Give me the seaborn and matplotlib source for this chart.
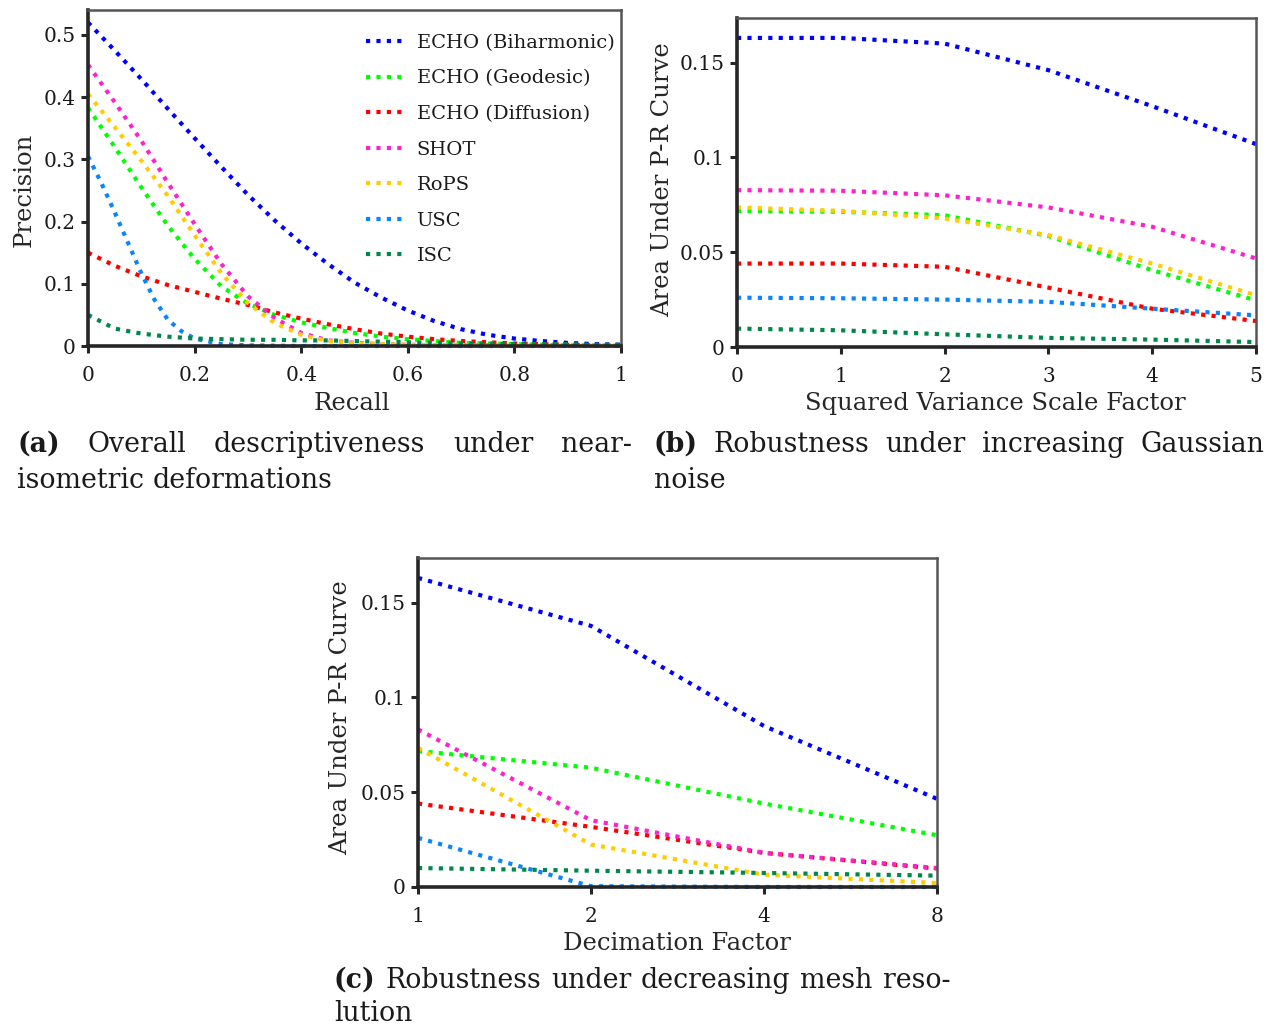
import numpy as np
import pandas as pd
import matplotlib
matplotlib.use("Agg")
import matplotlib.pyplot as plt
import seaborn as sns

# ---------------- data ----------------
methods = ["ECHO (Biharmonic)", "ECHO (Geodesic)", "ECHO (Diffusion)",
           "SHOT", "RoPS", "USC", "ISC"]
colors = ["#0000ff", "#00ff00", "#ff0000", "#ff22cc", "#ffcc00", "#0a84ff", "#00884a"]

# (a) precision-recall
recall = [0.0, 0.05, 0.1, 0.15, 0.2, 0.25, 0.3, 0.35, 0.4, 0.45, 0.5,
          0.55, 0.6, 0.65, 0.7, 0.75, 0.8, 0.85, 0.9, 0.95, 1.0]
prec_biharmonic = [0.52, 0.475, 0.429, 0.381, 0.334, 0.288, 0.243, 0.202, 0.165, 0.132, 0.102,
                   0.078, 0.057, 0.040, 0.027, 0.018, 0.012, 0.008, 0.005, 0.003, 0.002]
prec_geodesic = [0.383, 0.320, 0.255, 0.193, 0.140, 0.096, 0.068, 0.050, 0.038, 0.029, 0.021,
                 0.015, 0.011, 0.008, 0.005, 0.004, 0.003, 0.002, 0.001, 0.001, 0.0]
prec_diffusion = [0.150, 0.129, 0.112, 0.098, 0.087, 0.076, 0.066, 0.054, 0.044, 0.035, 0.027,
                  0.020, 0.015, 0.011, 0.008, 0.006, 0.004, 0.003, 0.002, 0.001, 0.0]
prec_shot = [0.452, 0.392, 0.330, 0.262, 0.196, 0.132, 0.080, 0.045, 0.021, 0.009, 0.005,
             0.003, 0.002, 0.001, 0.001, 0.001, 0.0, 0.0, 0.0, 0.0, 0.0]
prec_rops = [0.405, 0.352, 0.298, 0.241, 0.178, 0.117, 0.069, 0.037, 0.018, 0.008, 0.004,
             0.003, 0.002, 0.001, 0.001, 0.0, 0.0, 0.0, 0.0, 0.0, 0.0]
recall_usc = [0.0, 0.025, 0.05, 0.075, 0.1, 0.125, 0.15, 0.175, 0.2, 0.25, 0.3, 0.4,
              0.5, 0.6, 0.7, 0.8, 0.9, 1.0]
prec_usc = [0.305, 0.262, 0.215, 0.166, 0.117, 0.074, 0.042, 0.024, 0.012, 0.003, 0.001, 0.0,
            0.0, 0.0, 0.0, 0.0, 0.0, 0.0]
prec_isc = [0.050, 0.028, 0.020, 0.015, 0.012, 0.011, 0.010, 0.010, 0.009, 0.009, 0.008,
            0.007, 0.006, 0.005, 0.004, 0.004, 0.003, 0.003, 0.003, 0.002, 0.002]

# (b) Gaussian noise
noise = [0, 1, 2, 3, 4, 5]
noise_auc = {
    "ECHO (Biharmonic)": [0.163, 0.163, 0.160, 0.146, 0.127, 0.107],
    "ECHO (Geodesic)":   [0.0717, 0.0713, 0.0695, 0.0585, 0.0405, 0.0246],
    "ECHO (Diffusion)":  [0.044, 0.044, 0.0423, 0.0313, 0.0202, 0.0137],
    "SHOT":              [0.0827, 0.0824, 0.080, 0.0736, 0.0634, 0.0467],
    "RoPS":              [0.0736, 0.0718, 0.0678, 0.059, 0.044, 0.0273],
    "USC":               [0.026, 0.0257, 0.025, 0.0238, 0.0202, 0.0167],
    "ISC":               [0.0097, 0.0088, 0.0067, 0.0048, 0.0039, 0.0026],
}

# (c) decimation
decimation = [1, 2, 4, 8]
decim_auc = {
    "ECHO (Biharmonic)": [0.163, 0.1377, 0.0849, 0.0465],
    "ECHO (Geodesic)":   [0.0717, 0.0629, 0.044, 0.0273],
    "ECHO (Diffusion)":  [0.044, 0.0317, 0.018, 0.0097],
    "SHOT":              [0.0831, 0.0352, 0.018, 0.010],
    "RoPS":              [0.0734, 0.0224, 0.0065, 0.0021],
    "USC":               [0.0259, 0.0004, 0.0, 0.0],
    "ISC":               [0.010, 0.0086, 0.0074, 0.006],
}

# ---------------- style ----------------
sns.set_theme(style="white")
plt.rcParams["font.family"] = ["DejaVu Serif"]
plt.rcParams["text.color"] = "#1a1a1a"

W, H = 1271, 1029
fig = plt.figure(figsize=(W / 100, H / 100), dpi=100)

def ax_rect(l, t, r, b):
    return [l / W, 1 - b / H, (r - l) / W, (b - t) / H]

ax_a = fig.add_axes(ax_rect(88, 10, 621, 346))
ax_b = fig.add_axes(ax_rect(737, 18, 1256, 347))
ax_c = fig.add_axes(ax_rect(418, 558, 937, 887))

LS = (0, (1, 1.5))
LW = 3.0
TICK_FS = 14.5
LABEL_FS = 17.5

def style_axes(ax):
    for side in ["left", "bottom"]:
        ax.spines[side].set_linewidth(2.6)
        ax.spines[side].set_color("#262626")
    for side in ["top", "right"]:
        ax.spines[side].set_linewidth(1.8)
        ax.spines[side].set_color("#555555")
        ax.spines[side].set_visible(True)
    ax.tick_params(axis="both", which="major", direction="out", length=5,
                   width=2.2, color="#262626", labelsize=TICK_FS, labelcolor="#1a1a1a",
                   bottom=True, left=True, top=False, right=False)
    ax.tick_params(axis="x", pad=9.5)
    ax.tick_params(axis="y", pad=4)
    ax.tick_params(which="minor", bottom=False, left=False)
    ax.grid(False)

# (a)
series_a = [prec_biharmonic, prec_geodesic, prec_diffusion, prec_shot, prec_rops, None, prec_isc]
for name, col, ys in zip(methods, colors, series_a):
    if name == "USC":
        xs, ys = recall_usc, prec_usc
    else:
        xs = recall
    sns.lineplot(x=xs, y=ys, ax=ax_a, color=col, linewidth=LW, linestyle=LS,
                 label=name, legend=False, clip_on=False)
ax_a.set_xlim(0, 1)
ax_a.set_ylim(0, 0.54)
ax_a.set_xticks([0, 0.2, 0.4, 0.6, 0.8, 1.0])
ax_a.set_xticklabels(["0", "0.2", "0.4", "0.6", "0.8", "1"])
ax_a.set_yticks([0, 0.1, 0.2, 0.3, 0.4, 0.5])
ax_a.set_yticklabels(["0", "0.1", "0.2", "0.3", "0.4", "0.5"])
ax_a.set_xlabel("Recall", fontsize=LABEL_FS)
ax_a.set_ylabel("Precision", fontsize=LABEL_FS)
style_axes(ax_a)
ax_a.xaxis.set_label_coords(0.495, -0.138)
ax_a.yaxis.set_label_coords(-0.098, 0.464)
leg = ax_a.legend(loc="upper left", bbox_to_anchor=((366 - 88) / 533, (346 - 34) / 336),
                  frameon=False, fontsize=14, handlelength=2.05, handletextpad=0.55,
                  labelspacing=0.9, borderpad=0, borderaxespad=0)

# (b)
df_b = pd.DataFrame([(m, x, v) for m in methods for x, v in zip(noise, noise_auc[m])],
                    columns=["method", "x", "auc"])
for name, col in zip(methods, colors):
    sub = df_b[df_b.method == name]
    sns.lineplot(data=sub, x="x", y="auc", ax=ax_b, color=col, linewidth=LW,
                 linestyle=LS, legend=False, clip_on=False)
ax_b.set_xlim(0, 5)
ax_b.set_ylim(0, 0.1735)
ax_b.set_xticks(noise)
ax_b.set_xticklabels([str(v) for v in noise])
ax_b.set_yticks([0, 0.05, 0.1, 0.15])
ax_b.set_yticklabels(["0", "0.05", "0.1", "0.15"])
ax_b.set_xlabel("Squared Variance Scale Factor", fontsize=LABEL_FS)
ax_b.set_ylabel("Area Under P-R Curve", fontsize=LABEL_FS)
style_axes(ax_b)
ax_b.xaxis.set_label_coords(0.497, -0.138)
ax_b.yaxis.set_label_coords(-0.122, 0.51)

# (c)
df_c = pd.DataFrame([(m, x, v) for m in methods for x, v in zip(decimation, decim_auc[m])],
                    columns=["method", "x", "auc"])
for name, col in zip(methods, colors):
    sub = df_c[df_c.method == name]
    sns.lineplot(data=sub, x="x", y="auc", ax=ax_c, color=col, linewidth=LW,
                 linestyle=LS, legend=False, clip_on=False)
ax_c.set_xscale("log", base=2)
ax_c.set_xlim(1, 8)
ax_c.set_ylim(0, 0.1735)
ax_c.set_xticks(decimation)
ax_c.set_xticklabels([str(v) for v in decimation])
ax_c.set_yticks([0, 0.05, 0.1, 0.15])
ax_c.set_yticklabels(["0", "0.05", "0.1", "0.15"])
ax_c.set_xlabel("Decimation Factor", fontsize=LABEL_FS)
ax_c.set_ylabel("Area Under P-R Curve", fontsize=LABEL_FS)
style_axes(ax_c)
ax_c.xaxis.set_label_coords(0.499, -0.138)
ax_c.yaxis.set_label_coords(-0.126, 0.514)

# ---------------- captions (justified) ----------------
CAP_FS = 19.3
renderer = fig.canvas.get_renderer()

def justified_line(words, x0, x1, ybase, bold_first):
    texts = []
    for i, w in enumerate(words):
        t = fig.text(0, 1 - ybase / H, w, fontsize=CAP_FS, va="baseline", ha="left",
                     fontweight="bold" if (bold_first and i == 0) else "normal")
        texts.append(t)
    widths = [t.get_window_extent(renderer).width for t in texts]
    gap = (x1 - x0 - sum(widths)) / (len(words) - 1)
    x = x0
    for t, w in zip(texts, widths):
        t.set_x(x / W)
        x += w + gap

def plain_line(words, x0, ybase, bold_first):
    x = x0
    sp = fig.text(0, 0, "a a", fontsize=CAP_FS)
    sa = fig.text(0, 0, "aa", fontsize=CAP_FS)
    space = sp.get_window_extent(renderer).width - sa.get_window_extent(renderer).width
    sp.remove(); sa.remove()
    for i, w in enumerate(words):
        t = fig.text(x / W, 1 - ybase / H, w, fontsize=CAP_FS, va="baseline", ha="left",
                     fontweight="bold" if (bold_first and i == 0) else "normal")
        x += t.get_window_extent(renderer).width + space

justified_line(["(a)", "Overall", "descriptiveness", "under", "near-"], 17, 632, 452, True)
plain_line(["isometric", "deformations"], 17, 488, False)
justified_line(["(b)", "Robustness", "under", "increasing", "Gaussian"], 653, 1264, 452, True)
plain_line(["noise"], 654, 488, False)
justified_line(["(c)", "Robustness", "under", "decreasing", "mesh", "reso-"], 334, 950, 988, True)
plain_line(["lution"], 334, 1021, False)

fig.savefig("out.png", dpi=100)
